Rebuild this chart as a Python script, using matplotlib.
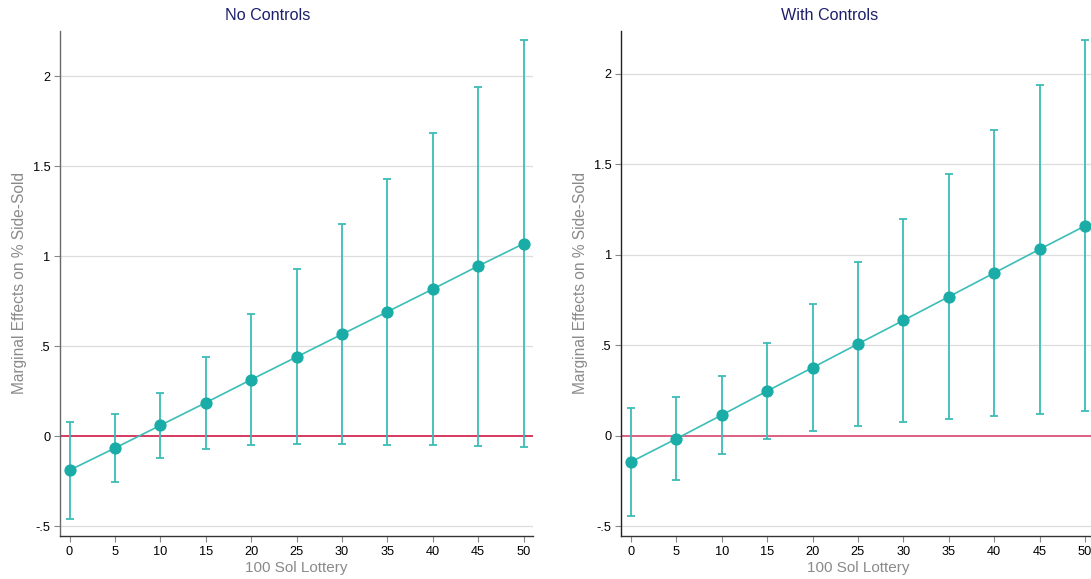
import matplotlib
matplotlib.use("Agg")
import matplotlib.pyplot as plt
import numpy as np

plt.rcParams['font.family'] = ['Liberation Sans', 'DejaVu Sans']

x_vals = [0, 5, 10, 15, 20, 25, 30, 35, 40, 45, 50]

nc_est = [-0.188, -0.065, 0.061, 0.187, 0.315, 0.441, 0.567, 0.692, 0.818, 0.946, 1.070]
nc_hi = [0.079, 0.124, 0.242, 0.442, 0.679, 0.928, 1.178, 1.431, 1.687, 1.942, 2.200]
nc_lo = [-0.461, -0.252, -0.119, -0.069, -0.050, -0.044, -0.044, -0.046, -0.050, -0.054, -0.059]

wc_est = [-0.145, -0.017, 0.114, 0.247, 0.376, 0.507, 0.637, 0.768, 0.899, 1.030, 1.159]
wc_hi = [0.151, 0.214, 0.332, 0.511, 0.728, 0.958, 1.199, 1.444, 1.691, 1.938, 2.186]
wc_lo = [-0.442, -0.245, -0.099, -0.017, 0.028, 0.055, 0.076, 0.094, 0.109, 0.122, 0.135]

titles = ["No Controls", "With Controls"]
y_ticks = [-0.5, 0, 0.5, 1, 1.5, 2]
y_ticklabels = ["-.5", "0", ".5", "1", "1.5", "2"]
x_ticks = x_vals
ylabel = "Marginal Effects on % Side-Sold"
xlabel = "100 Sol Lottery"

W, H = 1091, 579
fig = plt.figure(figsize=(W / 100, H / 100), dpi=100)

teal_marker = "#1aaca6"
teal_line = "#3bbdb8"
title_color = "#1c1f6b"
label_color = "#8a8a8a"

panels = [
    dict(left=60, est=nc_est, hi=nc_hi, lo=nc_lo, ylim=(-0.555, 2.253), red="#d42a50",
         spine="#6a6a6a", title_x=267.6),
    dict(left=621.4, est=wc_est, hi=wc_hi, lo=wc_lo, ylim=(-0.556, 2.238), red="#d9557a",
         spine="#222222", title_x=829.3),
]

ax_w = 472.8
top_px, bot_px = 30.7, 536.3
for p, title in zip(panels, titles):
    ax = fig.add_axes([p['left'] / W, 1 - bot_px / H, ax_w / W, (bot_px - top_px) / H])
    est = np.array(p['est'])
    hi = np.array(p['hi'])
    lo = np.array(p['lo'])
    ax.set_xlim(-1.05, 51.02)
    ax.set_ylim(*p['ylim'])
    for yt in y_ticks:
        if yt != 0:
            ax.axhline(yt, color="#dddddd", lw=0.9, zorder=0)
    ax.axhline(0, color=p['red'], lw=1.3, zorder=1)
    ax.errorbar(x_vals, est, yerr=[est - lo, hi - est], fmt='none', ecolor=teal_line,
                elinewidth=1.3, capsize=2.7, capthick=1.3, zorder=2)
    ax.plot(x_vals, est, color=teal_line, lw=1.2, zorder=3)
    ax.plot(x_vals, est, 'o', color=teal_marker, ms=7.8, mec=teal_marker, zorder=4)

    ax.set_xticks(x_ticks)
    ax.set_yticks(y_ticks)
    ax.set_yticklabels(y_ticklabels)
    ax.tick_params(axis='both', direction='out', length=4, width=0.8, color="#888888",
                   labelsize=9.2, labelcolor="black", pad=3)
    for s in ['top', 'right']:
        ax.spines[s].set_visible(False)
    ax.spines['left'].set_color(p['spine'])
    ax.spines['left'].set_linewidth(1.0)
    ax.spines['bottom'].set_color("#333333")
    ax.spines['bottom'].set_linewidth(1.0)
    ax.set_ylabel(ylabel, color=label_color, fontsize=11.2, labelpad=4)
    ax.set_xlabel(xlabel, color=label_color, fontsize=11, labelpad=2)
    fig.text(p['title_x'] / W, 1 - 16 / H, title, color=title_color, fontsize=11.6,
             ha='center', va='center')

fig.savefig("out.png", dpi=100)
